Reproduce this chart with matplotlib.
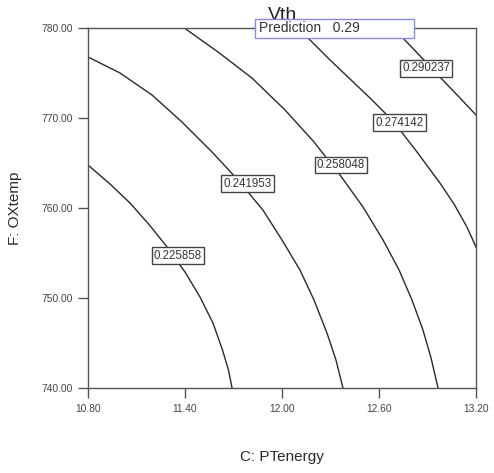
import matplotlib
matplotlib.use('Agg')
import matplotlib.pyplot as plt
from matplotlib.patches import Rectangle

plt.rcParams['font.family'] = ['Liberation Sans', 'DejaVu Sans']

# ---- data ----
levels = [0.225858, 0.241953, 0.258048, 0.274142, 0.290237]
x_ticks = [10.80, 11.40, 12.00, 12.60, 13.20]
y_ticks = [740.0, 750.0, 760.0, 770.0, 780.0]

c1_x = [10.800, 10.936, 11.060, 11.180, 11.289, 11.400, 11.493, 11.573, 11.632, 11.669, 11.691]
c1_y = [764.81, 762.70, 760.58, 758.14, 755.69, 752.91, 750.12, 747.23, 744.23, 742.00, 740.00]

c2_x = [10.800, 10.998, 11.196, 11.381, 11.567, 11.728, 11.882, 12.000, 12.111, 12.198, 12.278, 12.334, 12.377]
c2_y = [776.83, 775.05, 772.60, 769.60, 766.26, 763.14, 759.80, 756.47, 753.13, 749.79, 746.12, 743.11, 740.00]

c3_x = [11.400, 11.604, 11.814, 12.019, 12.198, 12.359, 12.501, 12.625, 12.724, 12.804, 12.872, 12.922, 12.965]
c3_y = [780.00, 777.39, 774.49, 770.93, 767.37, 763.70, 760.14, 756.47, 753.13, 749.79, 746.45, 743.34, 740.00]

c4_x = [12.105, 12.161, 12.297, 12.427, 12.544, 12.637, 12.730, 12.835, 12.977, 13.064, 13.144, 13.200]
c4_y = [780.00, 778.94, 776.50, 774.27, 772.27, 770.60, 768.71, 766.26, 762.81, 760.47, 757.91, 755.69]

c5_x = [12.693, 12.748, 12.866, 12.977, 13.095, 13.200]
c5_y = [780.00, 778.94, 776.72, 774.60, 772.38, 770.38]

contours_x = [c1_x, c2_x, c3_x, c4_x, c5_x]
contours_y = [c1_y, c2_y, c3_y, c4_y, c5_y]

prediction = 0.29

# ---- layout ----
W, H = 494, 473
fig = plt.figure(figsize=(W / 100, H / 100), dpi=100)
ax = fig.add_axes([88 / W, (H - 388) / H, (476 - 88) / W, (388 - 28.5) / H])

line_col = '#2a2a2a'
for xs, ys in zip(contours_x, contours_y):
    ax.plot(xs, ys, color=line_col, lw=1.0, zorder=2, solid_joinstyle='round')

# contour label positions (data coords)
label_pos = [(11.357, 754.74), (11.787, 762.75), (12.365, 764.81), (12.727, 769.54), (12.891, 775.55)]
for lev, (lx, ly) in zip(levels, label_pos):
    ax.text(lx, ly, f'{lev:.6f}', ha='center', va='center', fontsize=8.3, color='#333333',
            zorder=4,
            bbox=dict(boxstyle='square,pad=0.18', facecolor='white', edgecolor='#444444', lw=1.0))

ax.set_xlim(x_ticks[0], x_ticks[-1])
ax.set_ylim(y_ticks[0], y_ticks[-1])
ax.set_xticks(x_ticks)
ax.set_yticks(y_ticks)
ax.set_xticklabels([f'{v:.2f}' for v in x_ticks])
ax.set_yticklabels([f'{v:.2f}' for v in y_ticks])
ax.tick_params(axis='both', direction='out', length=7.2, width=1.0, color='#555555',
               labelsize=7.4, labelcolor='#444444', pad=3.6)
ax.tick_params(axis='x', pad=4.5)
for s in ax.spines.values():
    s.set_color('#555555')
    s.set_linewidth(1.0)

fig.text(282 / W, 1 - 457 / H, 'C: PTenergy', ha='center', va='center', fontsize=11, color='#2a2a2a')
fig.text(15 / W, 1 - 208 / H, 'F: OXtemp', ha='center', va='center', rotation=90, fontsize=11,
         color='#2a2a2a')

# title (partly hidden by the prediction box)
fig.text(282.5 / W, 1 - 7 / H, 'Vth', ha='center', va='top', fontsize=14, color='#222222', zorder=5)

# prediction flag box
fig.add_artist(Rectangle((255 / W, 1 - 38 / H), 159 / W, 19 / H, transform=fig.transFigure,
                         facecolor='white', edgecolor='#8a8ae0', lw=1.0, zorder=10))
fig.text(259 / W, 1 - 28.5 / H, f'Prediction   {prediction:.2f}', ha='left', va='center',
         fontsize=10, color='#333333', zorder=11)

fig.savefig('out.png', dpi=100)
